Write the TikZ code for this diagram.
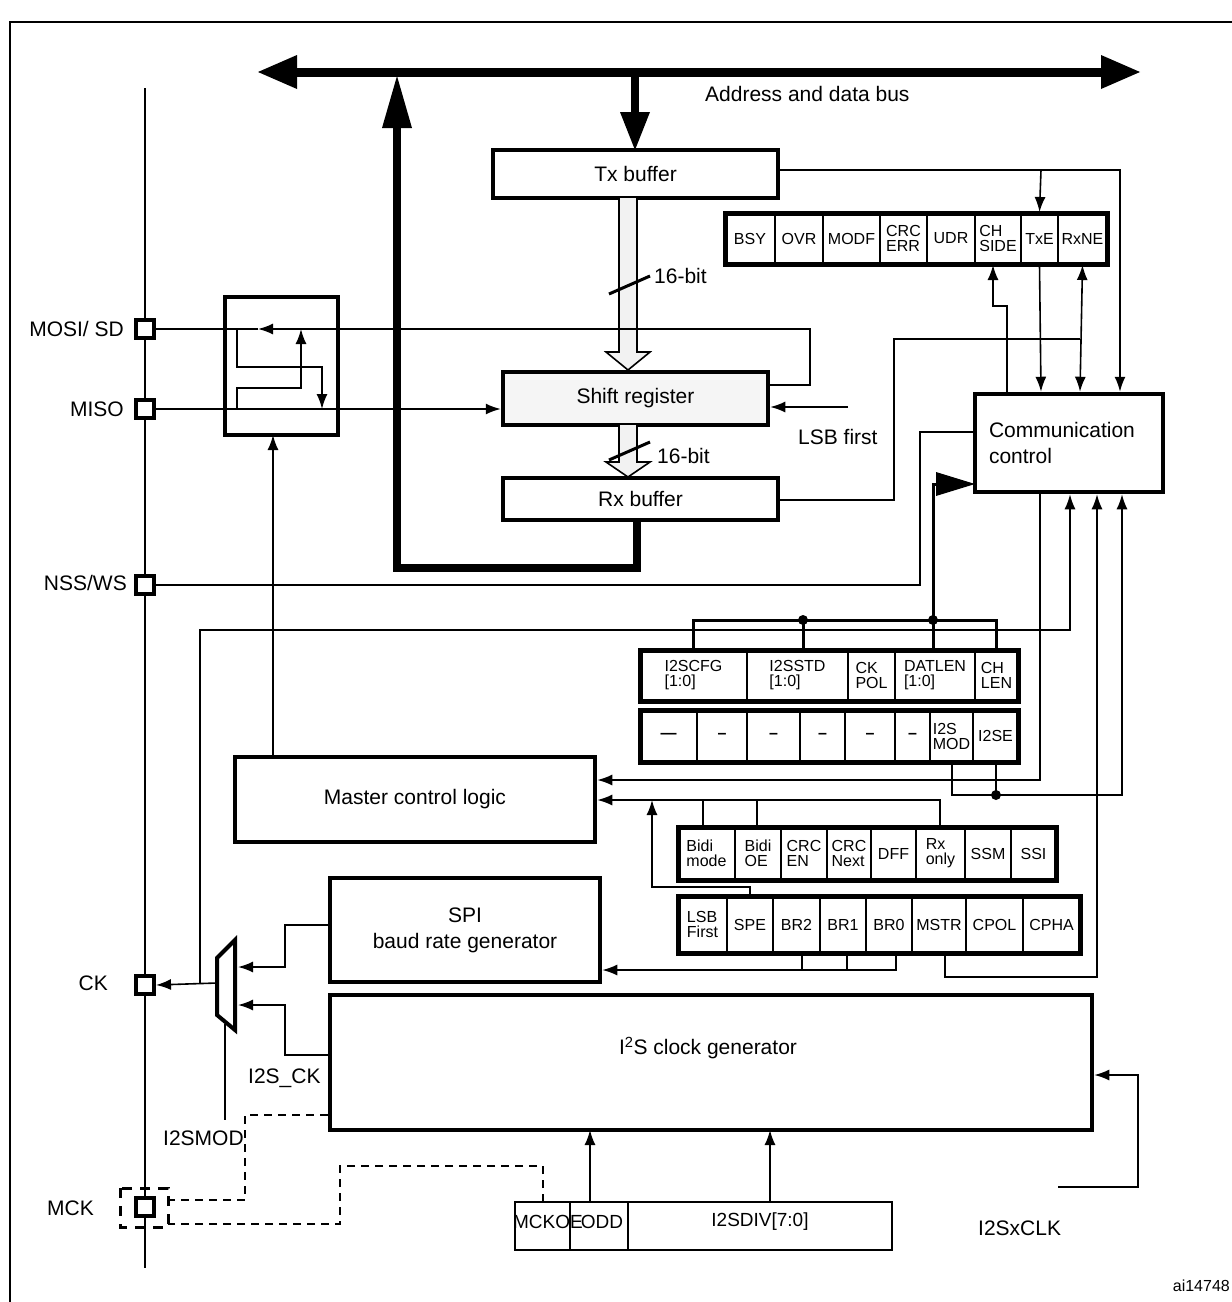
\documentclass[tikz,border=0pt]{standalone}
\usepackage{fontspec}
\setmainfont{Liberation Sans}
\usetikzlibrary{arrows.meta}
\newcommand\regc[6]{\node[cell,minimum width={#3-#2},minimum height={#5-#4}] (#1) at ({(#2+#3)/2},{(#4+#5)/2}) {#6};}
\newcommand\bigbox[6]{\node[box,minimum width={#3-#2},minimum height={#5-#4}] (#1) at ({(#2+#3)/2},{(#4+#5)/2}) {#6};}
\begin{document}
\begin{tikzpicture}[x=1pt,y=-1pt,
 thin/.style={line width=1.6pt},
 arr/.style={thin,-{Latex[length=15pt,width=11pt]}},
 darr/.style={thin,{Latex[length=15pt,width=11pt]}-{Latex[length=15pt,width=11pt]}},
 box/.style={draw,line width=4.5pt,inner sep=0pt,font=\fontsize{21}{26}\selectfont,align=center},
 cell/.style={draw,line width=2pt,inner sep=1pt,font=\fontsize{16}{15}\selectfont,align=left},
 lbl/.style={font=\fontsize{21}{25}\selectfont,inner sep=0pt},
 pin/.style={draw,line width=4pt,fill=white,minimum size=18pt,inner sep=0pt},
 dot/.style={circle,fill,inner sep=0pt,minimum size=10pt},
 dsh/.style={thin,dash pattern=on 8pt off 6pt}]
\useasboundingbox (0,0) rectangle (1232,1302);
\draw[line width=2pt] (10,1302) -- (10,22) -- (1232,22);
% pin rail
\draw[thin] (145,88) -- (145,1268);
% bus
\draw[line width=9pt] (290,72) -- (1105,72);
\fill (258,72) -- (297,55) -- (297,89) -- cycle;
\fill (1140,72) -- (1101,55) -- (1101,89) -- cycle;
\node[lbl,anchor=west] (buslbl) at (705,94) {Address and data bus};
% boxes
\bigbox{tx}{493}{778}{150}{198}{Tx buffer}
\node[box,fill=gray!8,minimum width=265,minimum height=53] (sr) at (635.5,398.5) {Shift register};
\bigbox{rx}{503}{778}{478}{520}{Rx buffer}
\node[box,minimum width=188,minimum height=98,align=left,text width=160] (cc) at (1069,443) {Communication\\control};
\bigbox{mcl}{235}{595}{757}{842}{Master control logic}
\bigbox{spi}{330}{600}{878}{982}{SPI\\baud rate generator}
\bigbox{i2s}{330}{1092}{995}{1130}{}
\node[lbl] (i2slbl) at (708,1048) {I\textsuperscript{2}S clock generator};
% bus arrows
\draw[line width=8pt] (635,76) -- (635,118);
\fill (635,150) -- (620,112) -- (650,112) -- cycle;
\draw[line width=8pt] (637,520) -- (637,568) -- (397,568) -- (397,120);
\fill (397,76) -- (382,128) -- (412,128) -- cycle;
% hollow arrows
\draw[thin,fill=gray!10] (619,198) -- (619,352) -- (606,352) -- (628,370) -- (650,352) -- (637,352) -- (637,198);
\draw[thin,fill=gray!10] (619,425) -- (619,462) -- (606,462) -- (628,477) -- (650,462) -- (637,462) -- (637,425);
\draw[line width=3pt] (609,294) -- (650,276);
\node[lbl,anchor=west] (b1) at (654,276) {16-bit};
\draw[line width=3pt] (609,460) -- (650,442);
\node[lbl,anchor=west] (b2) at (657,456) {16-bit};
% status register
\regc{bsy}{725}{775}{213}{264}{BSY}
\regc{ovr}{775}{823}{213}{264}{OVR}
\regc{modf}{823}{880}{213}{264}{MODF}
\regc{crce}{880}{927}{213}{264}{CRC\\ERR}
\regc{udr}{927}{975}{213}{264}{UDR}
\regc{chs}{975}{1021}{213}{264}{CH\\SIDE}
\regc{txe}{1021}{1058}{213}{264}{TxE}
\regc{rxne}{1058}{1107}{213}{264}{RxNE}
\draw[line width=5pt] (725,213) rectangle (1107,264);
% CR2-like
\regc{cfg}{640}{747}{650}{701}{I2SCFG\\{}[1:0]}
\regc{std}{747}{848}{650}{701}{I2SSTD\\{}[1:0]}
\regc{ckp}{848}{895}{650}{701}{CK\\POL}
\regc{dat}{895}{975}{650}{701}{DATLEN\\{}[1:0]}
\regc{chl}{975}{1018}{650}{701}{CH\\LEN}
\draw[line width=5pt] (640,650) rectangle (1018,701);
\regc{d1}{640}{697}{710}{762}{\textbf{---}}
\regc{d2}{697}{747}{710}{762}{\textbf{--}}
\regc{d3}{747}{800}{710}{762}{\textbf{--}}
\regc{d4}{800}{845}{710}{762}{\textbf{--}}
\regc{d5}{845}{895}{710}{762}{\textbf{--}}
\regc{d6}{895}{930}{710}{762}{\textbf{--}}
\regc{imod}{930}{973}{710}{762}{I2S\\MOD}
\regc{ise}{973}{1018}{710}{762}{I2SE}
\draw[line width=5pt] (640,710) rectangle (1018,762);
% CR1
\regc{bidm}{678}{735}{827}{880}{Bidi\\mode}
\regc{bido}{735}{781}{827}{880}{Bidi\\OE}
\regc{crcen}{781}{827}{827}{880}{CRC\\EN}
\regc{crcn}{827}{871}{827}{880}{CRC\\Next}
\regc{dff}{871}{916}{827}{880}{DFF}
\regc{rxo}{916}{965}{827}{880}{Rx\\only}
\regc{ssm}{965}{1011}{827}{880}{SSM}
\regc{ssi}{1011}{1056}{827}{880}{SSI}
\draw[line width=5pt] (678,827) rectangle (1056,880);
\regc{lsbf}{678}{727}{896}{953}{LSB\\First}
\regc{spe}{727}{773}{896}{953}{SPE}
\regc{br2}{773}{820}{896}{953}{BR2}
\regc{br1}{820}{866}{896}{953}{BR1}
\regc{br0}{866}{912}{896}{953}{BR0}
\regc{mstr}{912}{966}{896}{953}{MSTR}
\regc{cpol}{966}{1023}{896}{953}{CPOL}
\regc{cpha}{1023}{1080}{896}{953}{CPHA}
\draw[line width=5pt] (678,896) rectangle (1080,953);
% I2SPR
\regc{mcko}{515}{570}{1202}{1250}{}
\regc{odd}{570}{628}{1202}{1250}{}
\regc{div}{628}{892}{1202}{1250}{}
\draw[line width=2.5pt] (515,1202) rectangle (892,1250);
\node[lbl,font=\fontsize{19}{20}\selectfont] (mckot) at (548,1222) {MCKOE};
\node[lbl,font=\fontsize{19}{20}\selectfont] (oddt) at (602,1222) {ODD};
\node[lbl,font=\fontsize{19}{20}\selectfont] (divt) at (760,1222) {I2SDIV[7:0]};
% pins
\node[pin] (pmosi) at (145,329) {};
\node[pin] (pmiso) at (145,409) {};
\node[pin] (pnss) at (145,585) {};
\node[pin] (pck) at (145,985) {};
\node[pin] (pmck) at (145,1207) {};
\draw[line width=3pt,dash pattern=on 10pt off 8pt] (120,1188) rectangle (168,1227);
\node[lbl,anchor=east] at (124,329) {MOSI/ SD};
\node[lbl,anchor=east] at (124,409) {MISO};
\node[lbl,anchor=east] at (127,583) {NSS/WS};
\node[lbl,anchor=east] at (108,983) {CK};
\node[lbl,anchor=east] at (94,1208) {MCK};
% mux box
\node[box,minimum width=113,minimum height=138] (mux) at (281.5,366) {};
\draw[arr] (sr.east |- 0,385) -- (810,385) -- (810,329) -- (258,329);
\draw[thin] (258,329) -- (pmosi.east);
\draw[arr] (pmiso.east) -- (sr.west |- pmiso);
\draw[arr] (237,329) -- (237,367) -- (322,367) -- (322,409);
\draw[arr] (237,409) -- (237,388) -- (301,388) -- (301,329);
\draw[arr] (273,757) -- (273,435);
% LSB first
\draw[arr] (848,407) -- (sr.east |- 0,407);
\node[lbl,anchor=west] (lsbt) at (798,437) {LSB first};
% Tx buffer right
\draw[arr] (tx.east |- 0,170) -- (1120,170) -- (cc.north -| 1120,0);
\draw[arr] (1041,170) -- (txe.north);
\draw[arr] (txe.south) -- (cc.north -| 1041,0);
\draw[darr] (rxne.south) -- (cc.north -| 1080,0);
\draw[arr] (cc.north -| 1007,0) -- (1007,306) -- (993,306) -- (chs.south -| 993,0);
\draw[thin] (rx.east |- 0,500) -- (894,500) -- (894,339) -- (1080,339);
% NSS
\draw[thin] (pnss.east) -- (920,585) -- (920,432) -- (cc.west |- 0,432);
% CR2 bus
\draw[line width=3pt] (693,650) -- (693,620) -- (996,620) -- (996,650);
\draw[line width=3pt] (803,620) -- (803,650);
\draw[line width=3pt] (933,650) -- (933,484) -- (940,484);
\fill (975,484) -- (936,472) -- (936,496) -- cycle;
\node[dot] (j1) at (803,620) {};
\node[dot] (j2) at (933,620) {};
% comm control bottom
\draw[arr] (cc.south -| 1040,0) -- (1040,780) -- (mcl.east |- 0,780);
\draw[arr] (200,983) -- (200,630) -- (1070,630) -- (cc.south -| 1070,0);
\draw[arr] (945,953) -- (945,977) -- (1097,977) -- (cc.south -| 1097,0);
\draw[arr] (952,762) -- (952,795) -- (1122,795) -- (cc.south -| 1122,0);
\draw[thin] (996,762) -- (996,795);
\node[dot] (j3) at (996,795) {};
% CR1 links
\draw[arr] (940,827) -- (940,800) -- (mcl.east |- 0,800);
\draw[thin] (703,827) -- (703,800); \draw[thin] (757,827) -- (757,800);
\draw[arr] (750,896) -- (750,887) -- (652,887) -- (652,800);
\draw[arr] (896,953) -- (896,970) -- (spi.east |- 0,970);
\draw[thin] (802,953) -- (802,970); \draw[thin] (847,953) -- (847,970);
% mux
\draw[line width=4pt] (217,958) -- (235,940) -- (235,1030) -- (217,1015) -- cycle;
\coordinate (muxo) at (217,983);
\draw[arr] (spi.west |- 0,925) -- (285,925) -- (285,967) -- (238,967);
\draw[arr] (i2s.west |- 0,1055) -- (285,1055) -- (285,1005) -- (238,1005);
\draw[arr] (muxo) -- (pck.east);
\draw[thin] (225,1024) -- (225,1120);
\node[lbl,anchor=west] (i2sck) at (248,1078) {I2S\_CK};
\node[lbl,anchor=west] (i2smod) at (163,1138) {I2SMOD};
% dashed
\draw[dsh] (i2s.west |- 0,1115) -- (245,1115) -- (245,1200) -- (168,1200);
\draw[dsh] (543,1202) -- (543,1166) -- (340,1166) -- (340,1224) -- (168,1224);
% I2SPR arrows
\draw[arr] (590,1202) -- (590,1130);
\draw[arr] (770,1202) -- (770,1130);
% I2SxCLK
\draw[arr] (1058,1187) -- (1138,1187) -- (1138,1075) -- (i2s.east |- 0,1075);
\node[lbl,anchor=west] (clk) at (978,1228) {I2SxCLK};
\node[lbl,anchor=east,font=\fontsize{16}{18}\selectfont] (ai) at (1230,1286) {ai14748};
\end{tikzpicture}
\end{document}
